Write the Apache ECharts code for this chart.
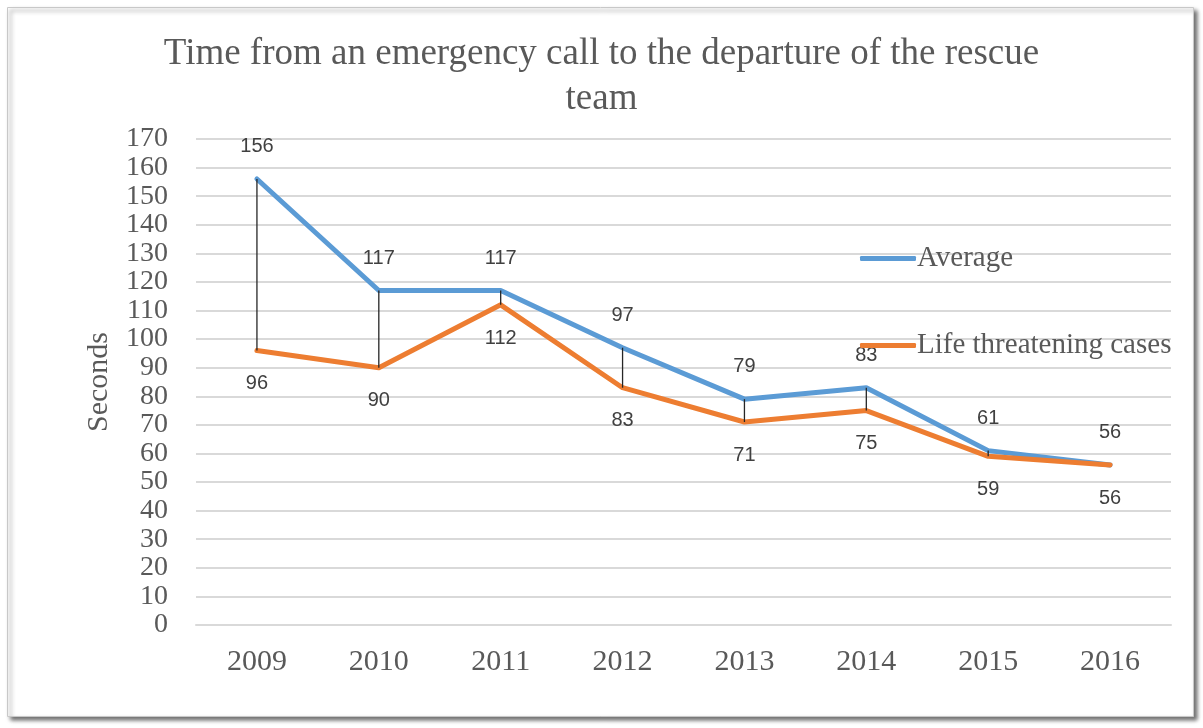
<!DOCTYPE html>
<html><head><meta charset="utf-8">
<script src="https://cdn.jsdelivr.net/npm/echarts@6/dist/echarts.min.js"></script>
<style>html,body{margin:0;padding:0;background:#fff}#c{width:1203px;height:728px}</style>
</head><body><div id="c"></div>
<script>
const years = ['2009','2010','2011','2012','2013','2014','2015','2016'];
const average = [156,117,117,97,79,83,61,56];
const lifeThreatening = [96,90,112,83,71,75,59,56];
const yTicks = {min:0, max:170, interval:10};

const chart = echarts.init(document.getElementById('c'));
const serif = '"Liberation Serif","Times New Roman",serif';
const sans = '"Liberation Sans",Arial,sans-serif';
const dropData = years.map((y,i)=>[i, Math.min(average[i], lifeThreatening[i]), Math.max(average[i], lifeThreatening[i])]);
chart.setOption({
  animation:false,
  graphic:[{type:'rect',left:7,top:7,shape:{width:1186,height:709},
    style:{fill:'#fff',stroke:'#c8c8c8',lineWidth:1,shadowColor:'rgba(0,0,0,0.55)',shadowBlur:4,shadowOffsetX:3,shadowOffsetY:3},z:-10}],
  title:{text:'Time from an emergency call to the departure of the rescue\nteam',left:'center',top:27,
    textStyle:{fontFamily:serif,fontSize:37,fontWeight:'normal',color:'#595959',lineHeight:45}},
  legend:{orient:'vertical',left:855,top:239,itemWidth:56,itemHeight:5,itemGap:58,
    textStyle:{fontFamily:serif,fontSize:29,color:'#595959',padding:[0,0,0,-4]},
    data:[{name:'Average',icon:'roundRect'},{name:'Life threatening cases',icon:'roundRect'}]},
  grid:{left:196,right:32,top:139,bottom:103},
  xAxis:{type:'category',data:years,boundaryGap:true,
    axisLine:{lineStyle:{color:'#d9d9d9',width:2}},axisTick:{show:false},
    axisLabel:{fontFamily:serif,fontSize:30,color:'#595959',margin:22}},
  yAxis:{type:'value',min:yTicks.min,max:yTicks.max,interval:yTicks.interval,
    name:'Seconds',nameLocation:'middle',nameGap:82,nameRotate:90,
    nameTextStyle:{fontFamily:serif,fontSize:30,color:'#595959'},
    axisLine:{show:false},axisTick:{show:false},
    axisLabel:{margin:28,showMinLabel:true,showMaxLabel:true,hideOverlap:false,
      fontFamily:serif,fontSize:28,color:'#595959'},
    splitLine:{lineStyle:{color:'#d9d9d9',width:2}}},
  series:[
    {name:'Average',type:'line',data:average,symbol:'circle',symbolSize:0.5,showSymbol:true,z:3,
      lineStyle:{color:'#5B9BD5',width:5,cap:'round',join:'round'},itemStyle:{color:'#5B9BD5'},
      label:{show:true,position:'top',distance:22,fontFamily:sans,fontSize:20,color:'#404040'}},
    {name:'Life threatening cases',type:'line',data:lifeThreatening,symbol:'circle',symbolSize:0.5,showSymbol:true,z:4,
      lineStyle:{color:'#ED7D31',width:5,cap:'round',join:'round'},itemStyle:{color:'#ED7D31'},
      label:{show:true,position:'bottom',distance:23,fontFamily:sans,fontSize:20,color:'#404040'}},
    {name:'drop',type:'custom',data:dropData,z:5,silent:true,
      renderItem:function(params,api){
        const p1=api.coord([api.value(0),api.value(1)]);
        const p2=api.coord([api.value(0),api.value(2)]);
        return {type:'line',shape:{x1:p1[0],y1:p1[1],x2:p2[0],y2:p2[1]},style:{stroke:'#262626',lineWidth:1.3}};
      },encode:{x:0,y:[1,2]}}
  ]
});
</script></body></html>
